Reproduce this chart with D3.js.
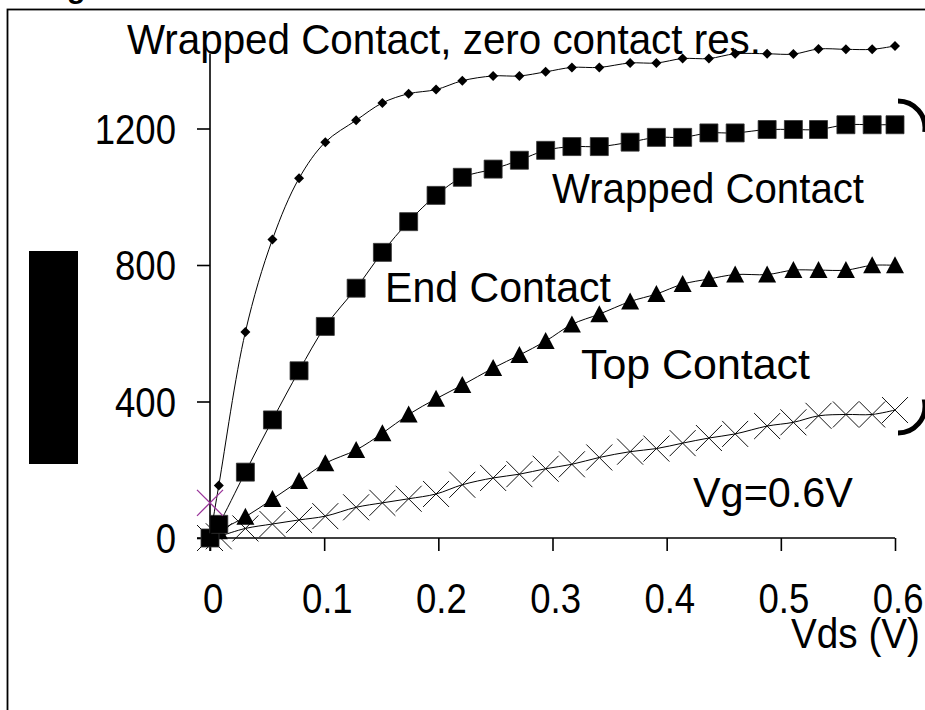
<!DOCTYPE html>
<html>
<head>
<meta charset="utf-8">
<script src="https://cdn.jsdelivr.net/npm/d3@7"></script>
<style>
    html, body { margin: 0; padding: 0; background: #fff; }
    svg { display: block; font-family: "Liberation Sans", Arial, sans-serif; }
</style>
</head>
<body>
<div id="chart"></div>
<script>
// Vds sample points (V), shared by all curves
const vds = [0, 0.0077, 0.031, 0.0547, 0.078, 0.101, 0.128, 0.151, 0.174, 0.198, 0.221, 0.248, 0.271,
    0.294, 0.317, 0.341, 0.368, 0.391, 0.414, 0.437, 0.460, 0.488, 0.511, 0.533, 0.557, 0.580, 0.600];

// current per curve
const zeroRes = [0, 154, 604, 875, 1054, 1160, 1224, 1275, 1302, 1314, 1340, 1354, 1354,
    1366, 1379, 1379, 1392, 1392, 1405, 1405, 1419, 1419, 1418, 1433, 1432, 1432, 1442];
const wrapped = [0, 40, 193, 346, 490, 620, 732, 837, 927, 1004, 1057, 1081, 1107,
    1136, 1147, 1147, 1160, 1174, 1174, 1187, 1187, 1197, 1197, 1197, 1211, 1211, 1211];
const endContact = [0, 20, 62, 114, 167, 219, 258, 307, 362, 408, 448, 498, 536,
    577, 626, 656, 693, 715, 744, 759, 772, 772, 785, 785, 785, 799, 799];
const topContact = [0, 5, 28, 41, 53, 64, 90, 103, 115, 129, 156, 176, 187,
    203, 216, 236, 253, 262, 278, 293, 305, 328, 339, 358, 362, 362, 375];

// lone magenta point at the origin
const markVds = [0];
const markVal = [103];

const xTicks = [0, 0.1, 0.2, 0.3, 0.4, 0.5, 0.6];
const yTicks = [0, 400, 800, 1200];
const yAxisTop = 1420;

const width = 925, height = 710;
const FONT = '"Liberation Sans", Arial, sans-serif';

const svg = d3.select('#chart')
    .append('svg')
    .attr('width', width)
    .attr('height', height);

const x = d3.scaleLinear().domain([0, 0.6]).range([210, 895]);
const y = d3.scaleLinear().domain([0, 1200]).range([538, 128.5]);

// outer frame (only top and left edges fall inside the picture)
svg.append('rect')
    .attr('x', 7.5).attr('y', 9.5)
    .attr('width', 1000).attr('height', 1000)
    .attr('fill', 'none')
    .attr('stroke', '#000')
    .attr('stroke-width', 1.8);

// cut-off letter at the very top
svg.append('text')
    .attr('x', 67).attr('y', -2)
    .attr('font-size', 30)
    .attr('font-weight', 'bold')
    .text('g');

// blacked-out y label
svg.append('rect')
    .attr('x', 29).attr('y', 251)
    .attr('width', 49).attr('height', 213)
    .attr('fill', '#000');

// axes
const xg = svg.append('g')
    .attr('transform', 'translate(0,' + y(0) + ')')
    .call(d3.axisBottom(x).tickValues(xTicks).tickSize(13).tickFormat(d => String(d)));
const yg = svg.append('g')
    .attr('transform', 'translate(' + x(0) + ',0)')
    .call(d3.axisLeft(y).tickValues(yTicks).tickSize(13).tickFormat(d => String(d)));

[xg, yg].forEach(g => {
    g.attr('font-family', FONT).attr('font-size', 42);
    g.select('.domain').remove();
    g.selectAll('line').attr('stroke', '#000').attr('stroke-width', 1.6);
    g.selectAll('text').attr('fill', '#000').attr('transform', 'scale(0.87,1)');
});
xg.selectAll('text').attr('y', 75).attr('dy', null).attr('x', 3);
yg.selectAll('text').attr('x', -34 / 0.87).attr('dy', '0.35em');

svg.append('line')
    .attr('x1', x(0)).attr('x2', x(0))
    .attr('y1', y(0) + 13).attr('y2', y(yAxisTop))
    .attr('stroke', '#000').attr('stroke-width', 1.6);
svg.append('line')
    .attr('x1', x(0) - 13).attr('x2', x(0.6))
    .attr('y1', y(0)).attr('y2', y(0))
    .attr('stroke', '#000').attr('stroke-width', 1.6);

const line = d3.line()
    .x((d, i) => x(vds[i]))
    .y(d => y(d))
    .curve(d3.curveCatmullRom.alpha(0.5));

const crossPath = 'M-13,-13L13,13M-13,13L13,-13';
const trianglePath = 'M0,-9L9,8L-9,8Z';
const squarePath = 'M-9,-9H9V9H-9Z';
const diamondPath = 'M0,-5L5,0L0,5L-5,0Z';

const series = [
    {values: topContact, shape: crossPath, fill: 'none', stroke: '#111', sw: 1},
    {values: endContact, shape: trianglePath, fill: '#000', stroke: 'none', sw: 0},
    {values: wrapped, shape: squarePath, fill: '#000', stroke: '#333', sw: 0.8},
    {values: zeroRes, shape: diamondPath, fill: '#000', stroke: 'none', sw: 0}
];

series.forEach(s => {
    svg.append('path')
        .datum(s.values)
        .attr('d', line)
        .attr('fill', 'none')
        .attr('stroke', '#000')
        .attr('stroke-width', 1);

    svg.append('g')
        .selectAll('path')
        .data(s.values).enter()
        .append('path')
        .attr('transform', (d, i) => 'translate(' + x(vds[i]) + ',' + y(d) + ')')
        .attr('d', s.shape)
        .attr('fill', s.fill)
        .attr('stroke', s.stroke)
        .attr('stroke-width', s.sw);
});

svg.append('g')
    .selectAll('path')
    .data(markVal).enter()
    .append('path')
    .attr('transform', (d, i) => 'translate(' + x(markVds[i]) + ',' + y(d) + ')')
    .attr('d', crossPath)
    .attr('fill', 'none')
    .attr('stroke', '#993399')
    .attr('stroke-width', 1.3);

// text labels
const labels = [
    {text: 'Wrapped Contact, zero contact res.', x: 127, y: 54, len: 634},
    {text: 'Wrapped Contact', x: 552, y: 203, len: 312},
    {text: 'End Contact', x: 385, y: 302, len: 226},
    {text: 'Top Contact', x: 581, y: 379, len: 229},
    {text: 'Vg=0.6V', x: 693, y: 507, len: 160},
    {text: 'Vds (V)', x: 791, y: 648, len: 129}
];
svg.append('g')
    .selectAll('text')
    .data(labels).enter()
    .append('text')
    .attr('x', d => d.x)
    .attr('y', d => d.y)
    .attr('font-size', 42)
    .attr('textLength', d => d.len)
    .attr('lengthAdjust', 'spacingAndGlyphs')
    .attr('fill', '#000')
    .text(d => d.text);

// bracket ends at the right edge
const arcs = d3.path();
arcs.arc(898, 128, 27, -Math.PI / 2, 0.15);
arcs.moveTo(925 + 2, 406 - 4);
arcs.arc(898, 406, 27, -0.15, Math.PI / 2);
svg.append('path')
    .attr('d', arcs.toString())
    .attr('fill', 'none')
    .attr('stroke', '#000')
    .attr('stroke-width', 5);
</script>
</body>
</html>
